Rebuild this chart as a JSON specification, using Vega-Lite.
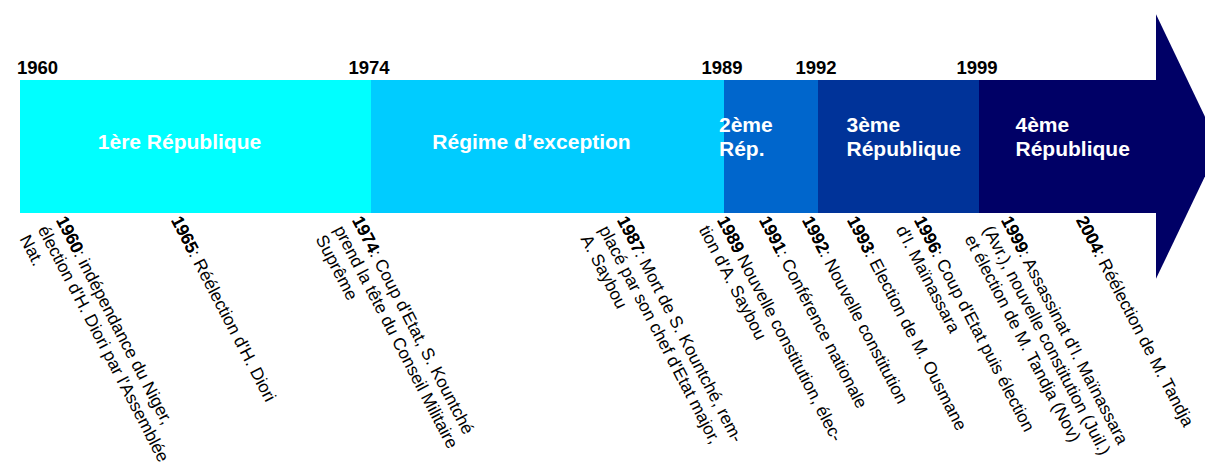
{
  "$schema": "https://vega.github.io/schema/vega-lite/v6.json",
  "width": 1205,
  "height": 465,
  "padding": 0,
  "autosize": {"type": "none"},
  "background": "white",
  "config": {"view": {"stroke": null}, "text": {"font": "Liberation Sans"}},
  "datasets": {
    "periods": [
      {"period": "1ère République", "start": 1960, "end": 1974, "label": ["1ère République"]},
      {"period": "Régime d’exception", "start": 1974, "end": 1989, "label": ["Régime d’exception"]},
      {"period": "2ème Rép.", "start": 1989, "end": 1992, "label": ["2ème", "Rép."]},
      {"period": "3ème République", "start": 1992, "end": 1999, "label": ["3ème", "République"]},
      {"period": "4ème République", "start": 1999, "end": 2006, "label": ["4ème", "République"]}
    ],
    "head": [
      {"year": 2006, "lo": -1.99, "hi": 1.99},
      {"year": 2008.5, "lo": 0, "hi": 0}
    ],
    "events": [
      {"year": 1960, "lines": ["1960: indépendance du Niger,", "élection d'H. Diori par l'Assemblée", "Nat."]},
      {"year": 1965, "lines": ["1965: Réélection d'H. Diori"]},
      {"year": 1974, "lines": ["1974: Coup d'Etat, S. Kountché", "prend la tête du Conseil Militaire", "Suprême"]},
      {"year": 1987, "lines": ["1987: Mort de S. Kountché, rem-", "placé par son chef d'Etat major,", "A. Saybou"]},
      {"year": 1989, "lines": ["1989 Nouvelle constitution, élec-", "tion d'A. Saybou"]},
      {"year": 1991, "lines": ["1991: Conférence nationale"]},
      {"year": 1992, "lines": ["1992: Nouvelle constitution"]},
      {"year": 1993, "lines": ["1993: Election de M. Ousmane"]},
      {"year": 1996, "lines": ["1996: Coup d'Etat puis élection", "d'I. Maïnassara"]},
      {"year": 1999, "lines": ["1999: Assassinat d'I. Maïnassara", "(Avr.), nouvelle constitution (Juil.)", "et élection de M. Tandja (Nov)"]},
      {"year": 2004, "lines": ["2004: Réélection de M. Tandja"]}
    ]
  },
  "layer": [
    {
      "layer": [
        {
          "data": {"name": "periods"},
          "mark": {"type": "rect"},
          "encoding": {
            "x": {"field": "start", "type": "quantitative", "axis": null,
              "scale": {"domain": [1960, 1974, 1989, 1992, 1999, 2006], "range": [20, 371, 724, 818, 979, 1156], "nice": false, "zero": false}},
            "x2": {"field": "end"},
            "y": {"datum": -1, "type": "quantitative", "axis": null,
              "scale": {"domain": [-4.789, 2.203], "nice": false, "zero": false}},
            "y2": {"datum": 1},
            "color": {"field": "period", "type": "nominal", "legend": null,
              "scale": {"domain": ["1ère République", "Régime d’exception", "2ème Rép.", "3ème République", "4ème République"],
                "range": ["#00FFFF", "#00CCFF", "#0066CC", "#003399", "#000066"]}}
          }
        },
        {
          "data": {"name": "head"},
          "mark": {"type": "area", "color": "#000066", "opacity": 1},
          "encoding": {
            "x": {"field": "year", "type": "quantitative", "axis": null,
              "scale": {"domain": [1960, 1974, 1989, 1992, 1999, 2006], "range": [20, 371, 724, 818, 979, 1156], "nice": false, "zero": false}},
            "y": {"field": "lo", "type": "quantitative", "axis": null,
              "scale": {"domain": [-4.789, 2.203], "nice": false, "zero": false}},
            "y2": {"field": "hi"}
          }
        },
        {
          "data": {"name": "periods"},
          "transform": [{"filter": "datum.start == 1960"}],
          "mark": {"type": "text", "align": "left", "baseline": "alphabetic", "dx": -3, "dy": -6, "fontSize": 18.5, "fontWeight": "bold", "color": "#000000"},
          "encoding": {
            "x": {"field": "start", "type": "quantitative", "axis": null,
              "scale": {"domain": [1960, 1974, 1989, 1992, 1999, 2006], "range": [20, 371, 724, 818, 979, 1156], "nice": false, "zero": false}},
            "y": {"datum": 1, "type": "quantitative", "axis": null,
              "scale": {"domain": [-4.789, 2.203], "nice": false, "zero": false}},
            "text": {"field": "start", "type": "nominal"}
          }
        },
        {
          "data": {"name": "periods"},
          "transform": [{"filter": "datum.start != 1960"}],
          "mark": {"type": "text", "align": "center", "baseline": "alphabetic", "dx": -2, "dy": -6, "fontSize": 18.5, "fontWeight": "bold", "color": "#000000"},
          "encoding": {
            "x": {"field": "start", "type": "quantitative", "axis": null,
              "scale": {"domain": [1960, 1974, 1989, 1992, 1999, 2006], "range": [20, 371, 724, 818, 979, 1156], "nice": false, "zero": false}},
            "y": {"datum": 1, "type": "quantitative", "axis": null,
              "scale": {"domain": [-4.789, 2.203], "nice": false, "zero": false}},
            "text": {"field": "start", "type": "nominal"}
          }
        },
        {
          "data": {"name": "periods"},
          "transform": [{"filter": "datum.label.length == 1"}, {"calculate": "(datum.start + datum.end) / 2", "as": "mid"}],
          "mark": {"type": "text", "align": "center", "baseline": "alphabetic", "dx": -16, "dy": 2, "fontSize": 21, "fontWeight": "bold", "color": "#FFFFFF"},
          "encoding": {
            "x": {"field": "mid", "type": "quantitative", "axis": null,
              "scale": {"domain": [1960, 1974, 1989, 1992, 1999, 2006], "range": [20, 371, 724, 818, 979, 1156], "nice": false, "zero": false}},
            "y": {"datum": 0, "type": "quantitative", "axis": null,
              "scale": {"domain": [-4.789, 2.203], "nice": false, "zero": false}},
            "text": {"field": "label"}
          }
        },
        {
          "data": {"name": "periods"},
          "transform": [{"filter": "datum.label.length > 1"}, {"calculate": "(datum.start + datum.end) / 2", "as": "mid"}],
          "mark": {"type": "text", "align": "left", "baseline": "alphabetic", "dx": -52, "dy": -14.5, "lineHeight": 24, "fontSize": 21, "fontWeight": "bold", "color": "#FFFFFF"},
          "encoding": {
            "x": {"field": "mid", "type": "quantitative", "axis": null,
              "scale": {"domain": [1960, 1974, 1989, 1992, 1999, 2006], "range": [20, 371, 724, 818, 979, 1156], "nice": false, "zero": false}},
            "y": {"datum": 0, "type": "quantitative", "axis": null,
              "scale": {"domain": [-4.789, 2.203], "nice": false, "zero": false}},
            "text": {"field": "label"}
          }
        }
      ]
    },
    {
      "layer": [
        {
          "data": {"name": "events"},
          "mark": {"type": "text", "align": "left", "baseline": "top", "angle": 62.5, "dy": 1, "fontSize": 17.4, "lineHeight": 20.5, "color": "#000000"},
          "encoding": {
            "x": {"field": "year", "type": "quantitative", "axis": null,
              "scale": {"domain": [1960, 1965, 1974, 1987, 1989, 1991, 1992, 1993, 1996, 1999, 2004], "range": [69, 184, 365, 630, 730, 772, 815, 860, 927, 1014, 1089], "nice": false, "zero": false}},
            "y": {"datum": -1, "type": "quantitative", "axis": null,
              "scale": {"domain": [-4.789, 2.203], "nice": false, "zero": false}},
            "text": {"field": "lines"}
          }
        },
        {
          "data": {"name": "events"},
          "mark": {"type": "text", "align": "left", "baseline": "top", "angle": 62.5, "dy": 1, "fontSize": 17.4, "fontWeight": "bold", "color": "#000000"},
          "encoding": {
            "x": {"field": "year", "type": "quantitative", "axis": null,
              "scale": {"domain": [1960, 1965, 1974, 1987, 1989, 1991, 1992, 1993, 1996, 1999, 2004], "range": [69, 184, 365, 630, 730, 772, 815, 860, 927, 1014, 1089], "nice": false, "zero": false}},
            "y": {"datum": -1, "type": "quantitative", "axis": null,
              "scale": {"domain": [-4.789, 2.203], "nice": false, "zero": false}},
            "text": {"field": "year", "type": "nominal"}
          }
        }
      ]
    }
  ],
  "resolve": {"scale": {"x": "independent"}}
}
